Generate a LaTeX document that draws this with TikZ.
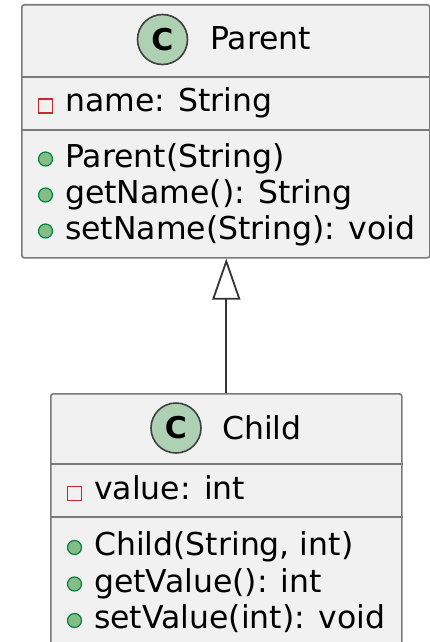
\documentclass[tikz,border=0pt]{standalone}
\usepackage{fontspec}
\setmainfont{DejaVu Sans}
\usetikzlibrary{arrows.meta,positioning}
\definecolor{boxfill}{HTML}{F1F1F1}
\definecolor{boxline}{HTML}{7A7A7A}
\definecolor{spotgreen}{HTML}{ADD1B2}
\definecolor{pubfill}{HTML}{84BE84}
\definecolor{publine}{HTML}{038048}
\definecolor{privline}{HTML}{C82930}
\tikzstyle{classbox}=[draw=boxline,fill=boxfill,rounded corners=2.5pt,line width=1.6pt,inner sep=0pt,anchor=north west]
\tikzstyle{member}=[anchor=base west,inner sep=0pt,font=\fontsize{31.5}{36}\selectfont]

\begin{document}
\begin{tikzpicture}[x=1pt,y=-1pt]
\tikzstyle{spot}=[draw=black!75,fill=spotgreen,circle,minimum size=50pt,inner sep=0pt,line width=1.6pt,font=\fontsize{30}{30}\selectfont\bfseries]
\tikzstyle{priv}=[draw=privline,rectangle,minimum size=14pt,inner sep=0pt,line width=1.8pt]
\tikzstyle{pub}=[draw=publine,fill=pubfill,circle,minimum size=14pt,inner sep=0pt,line width=1.2pt]
\clip (0,0) rectangle (430,642);
% Parent
\node [classbox,minimum width=408pt,minimum height=253pt] (parent) at (21,4) {};
\draw [boxline,line width=1.6pt] (parent.west |- 0,77) -- (parent.east |- 0,77);
\draw [boxline,line width=1.6pt] (parent.west |- 0,130) -- (parent.east |- 0,130);
\node [spot] (pspot) at (162.5,39.5) {C};
\node [member] (ptitle) at (210,50) {Parent};
\node [priv] (pa1) at (45.5,106) {};
\node [member] (pattr1) at (65,111) {name: String};
\foreach \txt [count=\i] in {Parent(String), getName(): String, setName(String): void} {
  \node [pub] (pm\i) at (45.5,{123+36*\i}) {};
  \node [member] (pop\i) at (65,{131+36*\i}) {\txt};
}
% Child
\node [classbox,minimum width=351pt,minimum height=270pt] (child) at (50,393) {};
\draw [boxline,line width=1.6pt] (child.west |- 0,464) -- (child.east |- 0,464);
\draw [boxline,line width=1.6pt] (child.west |- 0,517) -- (child.east |- 0,517);
\node [spot] (cspot) at (176,428) {C};
\node [member] (ctitle) at (222,439) {Child};
\node [priv] (ca1) at (74.5,493.5) {};
\node [member] (cattr1) at (94,499) {value: int};
\foreach \txt [count=\i] in {{Child(String, int)}, getValue(): int, setValue(int): void} {
  \node [pub] (cm\i) at (74.5,{511+36.5*\i}) {};
  \node [member] (cop\i) at (94,{519+36.5*\i}) {\txt};
}
% inheritance
\draw [-{Triangle[open,length=41pt,width=28pt]},line width=1.8pt,black!80] (child.north) -- (child.north |- parent.south);
\end{tikzpicture}
\end{document}
